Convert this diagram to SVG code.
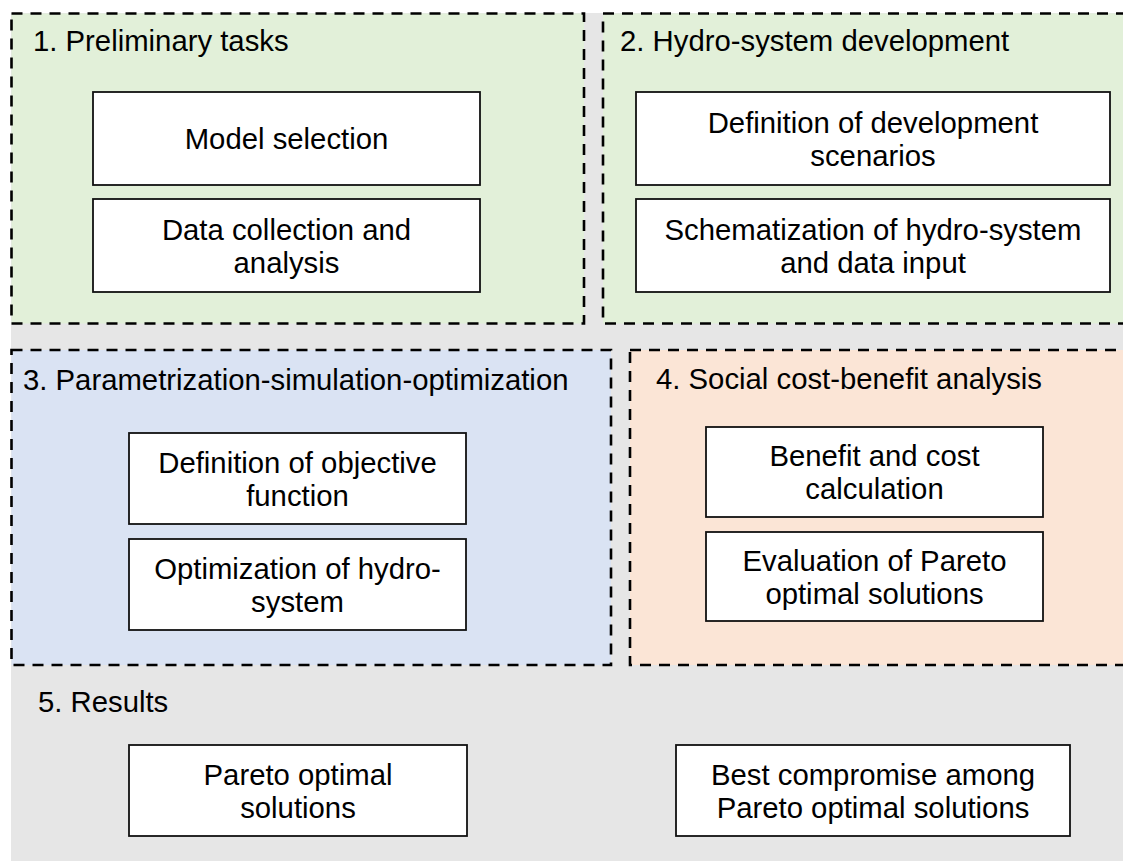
<svg xmlns="http://www.w3.org/2000/svg" width="1123" height="861" viewBox="0 0 1123 861">
  <style>
    .panel { stroke: #000; stroke-width: 2.6; stroke-dasharray: 11 8; }
    .green { fill: #E2F0D9; }
    .blue { fill: #DAE3F3; }
    .peach { fill: #FBE5D6; }
    .box { fill: #fff; stroke: #111; stroke-width: 1.8; }
    text { font-family: "Liberation Sans", Arial, sans-serif; font-size: 29.3px; fill: #000; }
    .c { text-anchor: middle; }
  </style>

  <!-- page background -->
  <rect x="0" y="0" width="1123" height="861" fill="#fff"/>
  <rect x="11" y="13" width="1115" height="850" fill="#E6E6E6"/>

  <!-- stage panels -->
  <g id="stage1">
    <rect class="panel green" x="11.5" y="13.5" width="572.5" height="310"/>
    <text x="33" y="51">1. Preliminary tasks</text>
  </g>
  <g id="stage2">
    <rect class="panel green" x="603" y="13.5" width="526" height="310"/>
    <text x="620" y="51">2. Hydro-system development</text>
  </g>
  <g id="stage3">
    <rect class="panel blue" x="11.5" y="350" width="599.5" height="315"/>
    <text x="23" y="390">3. Parametrization-simulation-optimization</text>
  </g>
  <g id="stage4">
    <rect class="panel peach" x="630" y="350" width="499" height="315"/>
    <text x="656" y="389">4. Social cost-benefit analysis</text>
  </g>
  <g id="stage5">
    <text x="38" y="712">5. Results</text>
  </g>

  <!-- task boxes -->
  <g id="model-selection">
    <rect class="box" x="93" y="92" width="387" height="93"/>
    <text class="c" x="286.5" y="149">Model selection</text>
  </g>
  <g id="data-collection">
    <rect class="box" x="93" y="199" width="387" height="93"/>
    <text class="c" x="286.5" y="240">Data collection and</text>
    <text class="c" x="286.5" y="273">analysis</text>
  </g>
  <g id="development-scenarios">
    <rect class="box" x="636" y="92" width="474" height="93"/>
    <text class="c" x="873" y="133">Definition of development</text>
    <text class="c" x="873" y="166">scenarios</text>
  </g>
  <g id="schematization">
    <rect class="box" x="636" y="199" width="474" height="93"/>
    <text class="c" x="873" y="240">Schematization of hydro-system</text>
    <text class="c" x="873" y="273">and data input</text>
  </g>
  <g id="objective-function">
    <rect class="box" x="129" y="433" width="337" height="91"/>
    <text class="c" x="297.5" y="473">Definition of objective</text>
    <text class="c" x="297.5" y="506">function</text>
  </g>
  <g id="optimization">
    <rect class="box" x="129" y="539" width="337" height="91"/>
    <text class="c" x="297.5" y="579">Optimization of hydro-</text>
    <text class="c" x="297.5" y="612">system</text>
  </g>
  <g id="benefit-cost">
    <rect class="box" x="706" y="427" width="337" height="90"/>
    <text class="c" x="874.5" y="466">Benefit and cost</text>
    <text class="c" x="874.5" y="499">calculation</text>
  </g>
  <g id="pareto-evaluation">
    <rect class="box" x="706" y="532" width="337" height="89"/>
    <text class="c" x="874.5" y="571">Evaluation of Pareto</text>
    <text class="c" x="874.5" y="604">optimal solutions</text>
  </g>
  <g id="pareto-solutions">
    <rect class="box" x="129" y="745" width="338" height="91"/>
    <text class="c" x="298" y="785">Pareto optimal</text>
    <text class="c" x="298" y="818">solutions</text>
  </g>
  <g id="best-compromise">
    <rect class="box" x="676" y="745" width="394" height="91"/>
    <text class="c" x="873" y="785">Best compromise among</text>
    <text class="c" x="873" y="818">Pareto optimal solutions</text>
  </g>

  <!-- no connectors in this layout -->
  <g id="connectors"/>
</svg>
